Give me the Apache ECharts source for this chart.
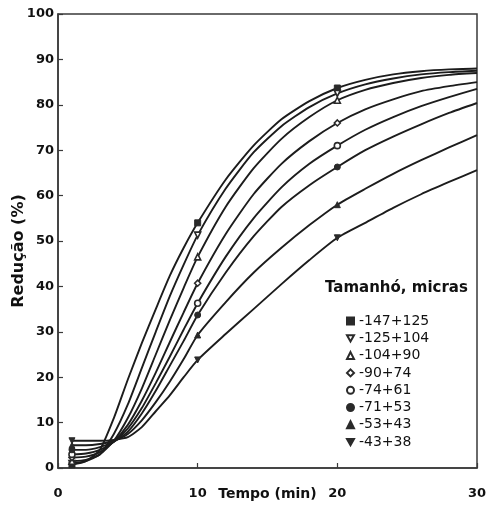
<!DOCTYPE html>
<html>
<head>
<meta charset="utf-8">
<script src="https://cdn.jsdelivr.net/npm/echarts@6/dist/echarts.min.js"></script>
<style>html,body{margin:0;padding:0;background:#fff}#c{width:486px;height:510px}</style>
</head>
<body>
<div id="c"></div>
<script>
// Time points (min)
var tempo = [1, 2, 3, 4, 5, 6, 7, 8, 9, 10, 12, 14, 16, 18, 20, 22, 24, 26, 28, 30];
// Size fractions (micras)
var tamanhos = ['-147+125', '-125+104', '-104+90', '-90+74', '-74+61', '-71+53', '-53+43', '-43+38'];
// Reduction (%) per fraction
var r147 = [0.7, 1.5, 4.0, 11.0, 19.5, 27.5, 35.0, 42.3, 48.5, 54.0, 63.5, 71.0, 76.8, 80.8, 83.7, 85.5, 86.7, 87.4, 87.8, 88.0];
var r125 = [1.0, 1.5, 3.0, 7.5, 14.0, 22.0, 30.0, 37.8, 44.8, 51.3, 61.5, 69.5, 75.3, 79.5, 82.5, 84.5, 85.8, 86.7, 87.2, 87.5];
var r104 = [1.5, 1.8, 3.0, 6.0, 11.0, 17.5, 25.0, 32.5, 39.7, 46.5, 57.5, 66.0, 72.5, 77.3, 81.0, 83.3, 84.8, 85.9, 86.6, 87.0];
var r90  = [2.3, 2.5, 3.5, 5.8, 9.5, 14.8, 21.0, 27.7, 34.3, 40.7, 51.5, 60.3, 67.0, 72.0, 76.0, 79.0, 81.2, 83.0, 84.1, 85.0];
var r74  = [3.0, 3.2, 4.0, 5.8, 8.7, 13.2, 18.7, 24.5, 30.5, 36.3, 46.5, 55.0, 61.8, 67.0, 71.0, 74.5, 77.3, 79.7, 81.7, 83.5];
var r71  = [4.0, 4.0, 4.6, 5.8, 8.0, 12.0, 17.0, 22.5, 28.0, 33.7, 43.0, 51.0, 57.5, 62.3, 66.3, 70.0, 73.0, 75.7, 78.2, 80.4];
var r53  = [5.0, 5.0, 5.3, 6.0, 7.5, 10.5, 14.5, 19.0, 24.0, 29.3, 36.5, 43.0, 48.5, 53.5, 58.0, 61.5, 64.8, 67.8, 70.6, 73.3];
var r43  = [6.0, 6.0, 6.0, 6.2, 6.8, 9.0, 12.5, 16.0, 20.0, 23.8, 29.5, 35.0, 40.5, 45.8, 50.7, 54.0, 57.3, 60.3, 63.0, 65.6];
var valores = [r147, r125, r104, r90, r74, r71, r53, r43];
// Times where a marker is drawn
var marcas = [1, 10, 20];
// Axis ticks
var xTicks = [0, 10, 20, 30];
var yTicks = [0, 10, 20, 30, 40, 50, 60, 70, 80, 90, 100];

var FONT = 'DejaVu Sans, Verdana, sans-serif';
var triDown = 'path://M0,0 L10,0 L5,9 Z';
var simbolos = ['rect', triDown, 'triangle', 'diamond', 'circle', 'circle', 'triangle', triDown];
var vazio = [false, true, true, true, true, false, false, false];

var series = tamanhos.map(function (nome, i) {
  var dados = tempo.map(function (t, j) {
    var p = {value: [t, valores[i][j]]};
    if (marcas.indexOf(t) < 0) p.symbol = 'none';
    return p;
  });
  return {
    name: nome,
    type: 'line',
    data: dados,
    smooth: 0.2,
    symbol: simbolos[i],
    symbolSize: 6,
    lineStyle: {color: '#1c1c1c', width: 1.9},
    itemStyle: vazio[i]
      ? {color: '#ffffff', borderColor: '#2a2a2a', borderWidth: 1.6}
      : {color: '#2a2a2a', borderColor: '#2a2a2a', borderWidth: 1},
    emphasis: {disabled: true},
    z: 2
  };
});

var chart = echarts.init(document.getElementById('c'), null, {renderer: 'canvas'});
chart.setOption({
  animation: false,
  backgroundColor: '#ffffff',
  textStyle: {fontFamily: FONT},
  grid: {left: 58, right: 9, top: 14, bottom: 42, containLabel: false, outerBoundsMode: 'none',
         show: true, borderColor: '#3a3a3a', borderWidth: 1.5, backgroundColor: 'transparent'},
  title: {
    text: 'Tamanhó, micras',
    left: 320, top: 276,
    textStyle: {fontSize: 15, fontWeight: 'bold', color: '#111', fontFamily: FONT}
  },
  graphic: [{
    type: 'text',
    x: 19, y: 251,
    rotation: Math.PI / 2,
    style: {text: 'Redução (%)', font: 'bold 16px ' + FONT, fill: '#111', align: 'center', verticalAlign: 'middle'}
  }],
  legend: {
    orient: 'vertical',
    left: 341, top: 309,
    itemWidth: 7, itemHeight: 7,
    itemGap: 3.3,
    textStyle: {fontSize: 14, color: '#111', lineHeight: 13, fontFamily: FONT},
    data: tamanhos.map(function (n, i) { return {name: n, icon: simbolos[i]}; }),
    selectedMode: false
  },
  xAxis: {
    type: 'value', min: xTicks[0], max: xTicks[xTicks.length - 1], interval: 10,
    name: 'Tempo (min)', nameLocation: 'middle', nameGap: 19, nameMoveOverlap: false,
    nameTextStyle: {fontSize: 14, fontWeight: 'bold', color: '#111', fontFamily: FONT},
    axisLine: {show: true, lineStyle: {color: '#3a3a3a', width: 1.5}},
    axisTick: {show: true, inside: true, length: 5, lineStyle: {color: '#3a3a3a', width: 1.2}},
    axisLabel: {fontSize: 13, fontWeight: 'bold', color: '#111', margin: 19, fontFamily: FONT},
    splitLine: {show: false}
  },
  yAxis: {
    type: 'value', min: yTicks[0], max: yTicks[yTicks.length - 1], interval: 10,
    axisLine: {show: true, lineStyle: {color: '#3a3a3a', width: 1.5}},
    axisTick: {show: true, inside: true, length: 5, lineStyle: {color: '#3a3a3a', width: 1.2}},
    axisLabel: {fontSize: 13, fontWeight: 'bold', color: '#111', margin: 4, fontFamily: FONT},
    splitLine: {show: false}
  },
  series: series
});
</script>
</body>
</html>
